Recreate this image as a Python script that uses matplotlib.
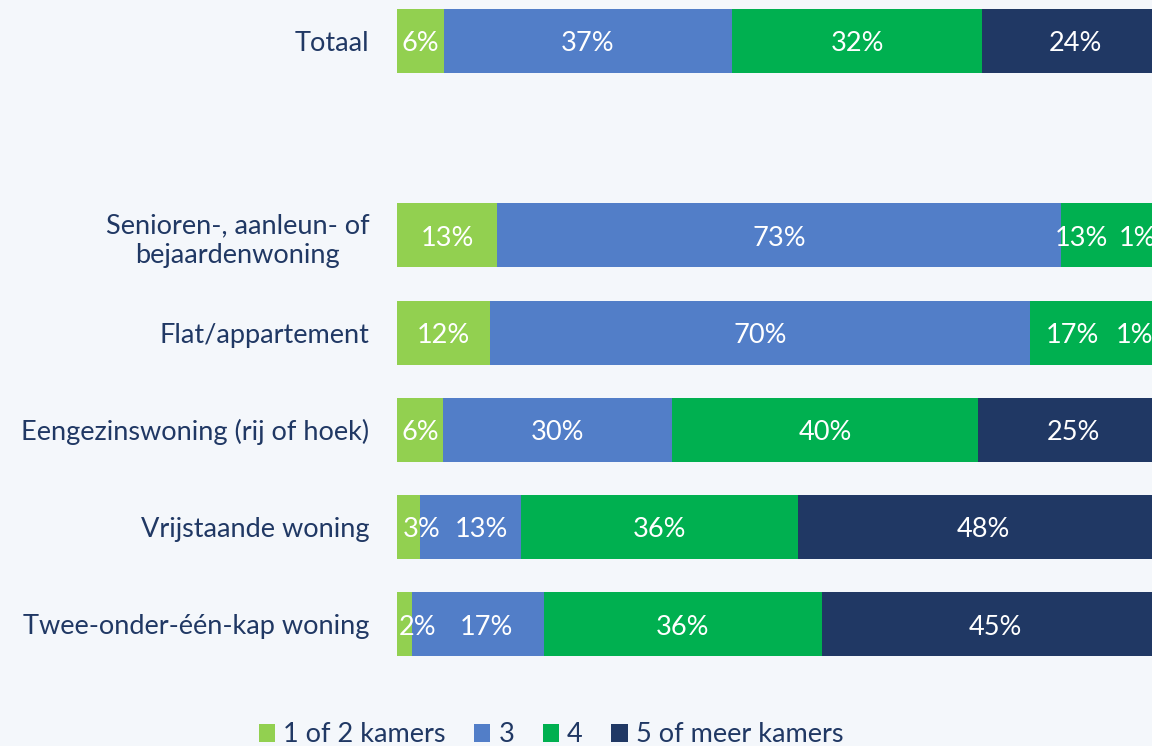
import matplotlib
matplotlib.use("Agg")
import matplotlib.pyplot as plt
from matplotlib.patches import Patch
import numpy as np

categories = ["Totaal", "", "Senioren-, aanleun- of\nbejaardenwoning", "Flat/appartement",
              "Eengezinswoning (rij of hoek)", "Vrijstaande woning", "Twee-onder-één-kap woning"]
series_names = ["1 of 2 kamers", "3", "4", "5 of meer kamers"]
s_12 = [6, 0, 13, 12, 6, 3, 2]
s_3 = [37, 0, 73, 70, 30, 13, 17]
s_4 = [32, 0, 13, 17, 40, 36, 36]
s_5 = [24, 0, 1, 1, 25, 48, 45]
colors = ["#92D050", "#527EC8", "#00B050", "#203864"]
text_color = "#203864"
bg = "#F4F7FB"

# label nudges (row, series) -> offset in percentage units
nudges = {(2, 2): -3.8, (2, 3): -3.6, (3, 2): -3.0, (3, 3): -3.9,
          (5, 0): 1.7, (5, 1): 1.4, (6, 0): 1.7, (6, 1): 1.1}

FS = 19.5
plt.rcParams['font.family'] = ['Lato', 'DejaVu Sans']
fig = plt.figure(figsize=(11.52, 7.46), dpi=100, facecolor=bg)
ax = fig.add_axes([397/1152, 0, 1 - 397/1152, 1])
ax.set_facecolor(bg)

series = [np.array(s, dtype=float) for s in [s_12, s_3, s_4, s_5]]
totals = sum(series)
totals[totals == 0] = 1
y = np.arange(len(categories))
left = np.zeros(len(categories))
for si, vals in enumerate(series):
    widths = vals / totals * 100
    ax.barh(y, widths, left=left, height=0.66, color=colors[si], edgecolor='none')
    for i, v in enumerate(vals):
        if v > 0:
            xc = left[i] + widths[i] / 2 + nudges.get((i, si), 0)
            ax.text(xc, y[i] + 0.03, f"{int(v)}%", ha='center', va='center',
                    color='white', fontsize=FS)
    left += widths

ax.set_xlim(0, (1152 - 397) / 7.72)
ax.set_ylim((746 - 41) / 97.2, -41 / 97.2)
ax.set_yticks(y)
ax.set_yticklabels(categories, fontsize=FS, color=text_color, multialignment='center',
                   linespacing=1.25)
ax.tick_params(axis='y', length=0, pad=20)
ax.set_xticks([])
for sp in ax.spines.values():
    sp.set_visible(False)

handles = [Patch(facecolor=c, edgecolor='none') for c in colors]
fig.legend(handles, series_names, loc='center', bbox_to_anchor=(551/1152, 1 - 735/746),
           ncol=4, frameon=False, fontsize=FS, labelcolor=text_color,
           handlelength=0.6, handleheight=0.6, handletextpad=0.3, columnspacing=1.05)

fig.savefig("out.png", dpi=100, facecolor=bg)
